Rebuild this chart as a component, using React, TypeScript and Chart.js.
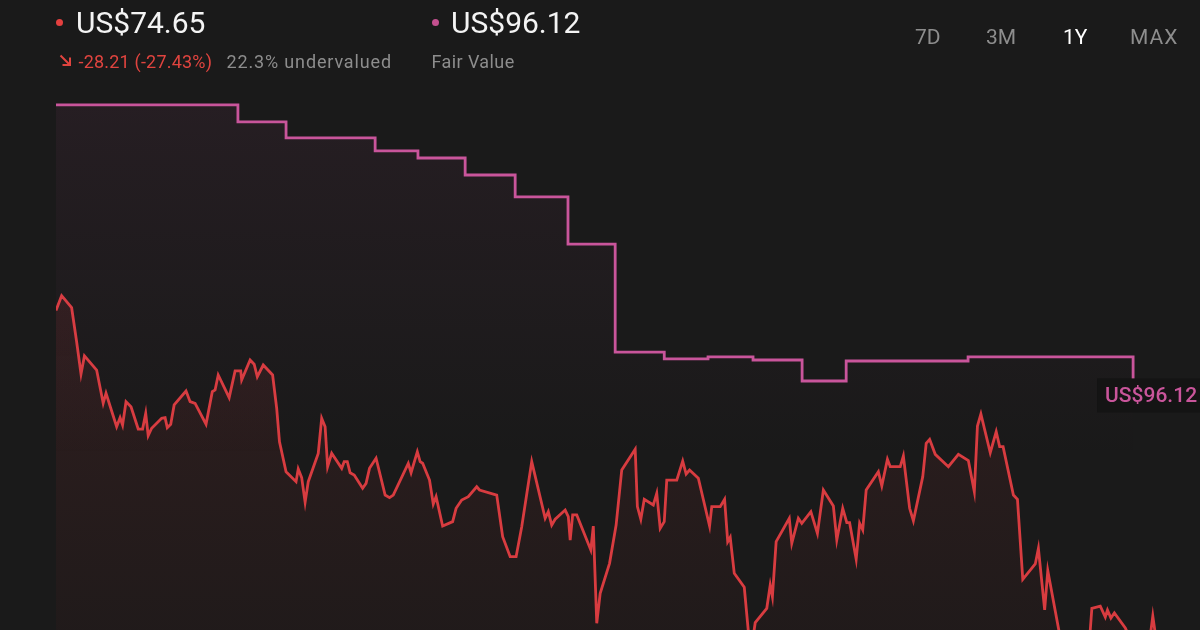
import React, { useEffect, useRef } from "react";
import { Chart, registerables } from "chart.js";

Chart.register(...registerables);

// ---- data (days since start of the 1Y window, prices in US$) ----
const priceDays = [
  0, 1.8, 5.0, 6.6, 8.0, 9.1, 13.0, 15.1, 16.0, 19.4, 20.5, 21.3, 22.4, 24.0, 26.3, 27.7, 28.7, 29.5, 30.6,
  33.8, 34.9, 35.6, 36.7, 37.8, 41.6, 42.9, 44.5, 48.0, 50.0, 50.9, 51.9, 55.4, 57.3, 59.1, 59.4, 62.1, 63.4,
  64.4, 66.3, 69.3, 70.6, 71.5, 73.6, 76.8, 77.5, 78.6, 79.7, 80.7, 83.9, 85.0, 86.1, 86.9, 88.2, 91.4, 92.2,
  93.2, 94.1, 95.4, 98.1, 99.2, 100.3, 102.4, 105.3, 106.7, 107.9, 112.7, 113.6, 115.6, 116.5, 117.3, 119.5,
  120.7, 121.6, 123.7, 126.9, 128.0, 129.8, 131.9, 134.6, 135.5, 141.0, 142.9, 145.3, 147.2, 149.0, 152.2,
  156.5, 157.5, 158.6, 159.7, 162.9, 163.9, 164.5, 165.3, 166.6, 171.1, 171.9, 173.0, 174.1, 177.1, 179.2,
  181.0, 185.3, 186.0, 187.1, 188.2, 191.1, 192.2, 193.3, 194.6, 195.4, 198.6, 200.5, 201.6, 202.7, 205.5,
  209.1, 209.8, 212.5, 213.9, 214.9, 215.7, 217.0, 220.2, 222.2, 223.7, 227.4, 228.5, 229.2, 230.4, 234.6,
  235.4, 237.5, 238.6, 241.5, 243.6, 245.5, 248.7, 249.8, 251.7, 253.0, 253.9, 256.0, 257.1, 258.1, 259.2,
  263.1, 264.2, 266.0, 266.9, 270.1, 271.1, 273.1, 274.3, 277.3, 278.4, 279.5, 281.3, 285.5, 288.7, 291.9,
  293.8, 294.8, 295.9, 298.9, 300.8, 301.9, 303.0, 306.3, 307.6, 309.3, 313.3, 314.3, 316.3, 317.3, 322.9,
  327.0, 330.2, 331.4, 334.1, 335.7, 336.4, 337.5, 338.6, 342.1, 345.3, 349.1, 350.9, 353.1, 355.2,
];
const prices = [
  102.86, 104.03, 103.08, 100.38, 97.82, 99.25, 98.13, 95.49, 96.29, 93.63, 94.35, 93.77, 95.62, 95.22, 93.45,
  93.45, 94.7, 92.92, 93.51, 94.3, 94.35, 93.56, 93.83, 95.36, 96.47, 95.62, 95.49, 93.83, 96.41, 96.55, 97.74,
  95.94, 98.06, 98.06, 97.34, 98.93, 98.59, 97.6, 98.53, 97.74, 95.1, 92.44, 90.06, 89.27, 90.28, 89.59, 87.63,
  89.27, 91.52, 94.3, 93.63, 90.46, 91.52, 90.33, 90.86, 90.86, 89.98, 89.8, 88.75, 89.14, 90.33, 91.13, 88.21,
  88.0, 88.21, 90.73, 89.98, 91.65, 90.86, 90.73, 89.4, 87.5, 88.08, 85.75, 86.1, 87.16, 87.82, 88.08, 88.87,
  88.61, 88.21, 84.9, 83.32, 83.32, 85.7, 90.86, 86.37, 86.89, 85.83, 86.29, 87.02, 86.49, 84.64, 86.63, 86.63,
  83.85, 85.75, 78.03, 80.41, 82.79, 85.83, 90.2, 91.84, 87.29, 86.29, 87.87, 87.42, 88.35, 85.57, 86.1, 89.4,
  89.4, 90.91, 89.88, 90.2, 89.54, 85.75, 87.29, 87.29, 87.87, 84.51, 84.86, 82.0, 80.89, 75.52, 78.08, 79.22,
  81.07, 80.14, 84.51, 86.37, 84.38, 86.37, 85.97, 86.89, 85.17, 88.61, 87.34, 84.64, 87.16, 86.02, 86.02,
  83.11, 85.97, 85.44, 88.61, 90.06, 88.93, 91.05, 90.46, 90.46, 91.31, 87.16, 86.17, 89.67, 92.32, 92.63,
  91.44, 90.46, 91.44, 90.94, 88.48, 93.69, 94.64, 91.57, 93.24, 92.05, 92.05, 88.21, 87.87, 81.52, 82.74,
  83.98, 79.09, 82.21, 74.72, 74.17, 75.12, 79.22, 79.4, 78.53, 79.09, 78.45, 78.85, 77.66, 75.91, 75.12,
  78.61, 74.72, 74.65,
];

const fairDays = [0, 58.2, 73.6, 102.1, 115.8, 130.9, 146.9, 163.8, 178.9, 194.6, 208.6, 223.0, 238.7, 252.8, 291.8, 344.6];
const fairValues = [119.17, 117.82, 116.55, 115.52, 114.96, 113.61, 111.87, 108.13, 99.56, 99.01, 99.17, 98.93, 97.26, 98.85, 99.17, 96.12];

const rangeTabs = ["7D", "3M", "1Y", "MAX"];
const activeTab = "1Y";

const currentPriceText = "US$74.65";
const fairValueText = "US$96.12";
const changeText = "-28.21 (-27.43%)";
const valuationText = "22.3% undervalued";
const fairLabel = "Fair Value";

const DAY_MAX = 366;
const Y_MIN = 77.5;
const Y_MAX = 127.5;

const RED = "#d83c40";
const PINK = "#c9559b";
const FONT = "Roboto, 'Liberation Sans', Arial, sans-serif";

const fairLabelPlugin = {
  id: "fairLabel",
  afterDatasetsDraw(chart: any) {
    const { ctx, scales } = chart;
    const i = fairValues.length - 1;
    const x = scales.x.getPixelForValue(fairDays[i]);
    const y = scales.y.getPixelForValue(fairValues[i]);
    ctx.save();
    ctx.fillStyle = "#141414";
    ctx.fillRect(x - 36, y - 17, chart.width - (x - 36), 34);
    ctx.fillStyle = PINK;
    ctx.font = `500 21px ${FONT}`;
    ctx.textAlign = "left";
    ctx.textBaseline = "middle";
    ctx.fillText(fairValueText, x - 28, y + 1);
    ctx.restore();
  },
};

function ChartCanvas() {
  const ref = useRef<HTMLCanvasElement | null>(null);
  useEffect(() => {
    if (!ref.current) return;
    const chart = new Chart(ref.current, {
      type: "line",
      data: {
        datasets: [
          {
            label: "Fair Value",
            data: fairDays.map((d, i) => ({ x: d, y: fairValues[i] })),
            borderColor: PINK,
            borderWidth: 2.8,
            stepped: "before",
            pointRadius: 0,
            fill: "start",
            backgroundColor: (c: any) => {
              const area = c.chart.chartArea;
              if (!area) return "transparent";
              const g = c.chart.ctx.createLinearGradient(0, area.top + 100, 0, area.top + 460);
              g.addColorStop(0, "rgba(200,85,154,0.07)");
              g.addColorStop(1, "rgba(200,85,154,0)");
              return g;
            },
          },
          {
            label: "Price",
            data: priceDays.map((d, i) => ({ x: d, y: prices[i] })),
            borderColor: RED,
            borderWidth: 2.8,
            pointRadius: 0,
            tension: 0,
            fill: "start",
            backgroundColor: (c: any) => {
              const area = c.chart.chartArea;
              if (!area) return "transparent";
              const g = c.chart.ctx.createLinearGradient(0, area.top + 290, 0, area.bottom);
              g.addColorStop(0, "rgba(214,58,63,0.11)");
              g.addColorStop(1, "rgba(214,58,63,0.04)");
              return g;
            },
          },
        ],
      },
      options: {
        animation: false,
        responsive: false,
        maintainAspectRatio: false,
        layout: { padding: { left: 56, right: 0, top: 0, bottom: 0 } },
        plugins: { legend: { display: false }, tooltip: { enabled: false } },
        scales: {
          x: { type: "linear", min: 0, max: DAY_MAX, display: false },
          y: { type: "linear", min: Y_MIN, max: Y_MAX, display: false },
        },
      },
      plugins: [fairLabelPlugin],
    });
    return () => chart.destroy();
  }, []);
  return <canvas ref={ref} width={1200} height={630} style={{ position: "absolute", left: 0, top: 0 }} />;
}

function Txt(props: {
  x: number;
  baseline: number;
  size: number;
  color: string;
  children: React.ReactNode;
  weight?: number;
  spacing?: number;
}) {
  const top = props.baseline - 0.8415 * props.size;
  return (
    <div
      style={{
        position: "absolute",
        left: props.x,
        top,
        fontSize: props.size,
        lineHeight: `${props.size}px`,
        color: props.color,
        fontFamily: FONT,
        fontWeight: props.weight ?? 400,
        letterSpacing: props.spacing ?? 0,
        whiteSpace: "nowrap",
      }}
    >
      {props.children}
    </div>
  );
}

function Dot(props: { x: number; y: number; color: string }) {
  return (
    <div
      style={{
        position: "absolute",
        left: props.x - 3.5,
        top: props.y - 3.5,
        width: 7,
        height: 7,
        borderRadius: "50%",
        background: props.color,
      }}
    />
  );
}

const tabX = [915, 986, 1063, 1130];

export default function App() {
  return (
    <div
      style={{
        position: "fixed",
        left: 0,
        top: 0,
        width: 1200,
        height: 630,
        background: "#1a1a1a",
        overflow: "hidden",
      }}
    >
      <ChartCanvas />
      <Dot x={59.5} y={22.5} color="#e4403f" />
      <Txt x={76} baseline={33.3} size={30} color="#f4f4f4">{currentPriceText}</Txt>
      <Dot x={435} y={22.5} color="#c4508f" />
      <Txt x={451} baseline={33.3} size={30} color="#f4f4f4">{fairValueText}</Txt>

      <svg style={{ position: "absolute", left: 59, top: 54 }} width={13} height={13} viewBox="0 0 13 13">
        <path d="M1.5 1.5 L10.5 10.5 M11 3.5 L11 11 L3.5 11" stroke="#e0443f" strokeWidth={2} fill="none" />
      </svg>
      <Txt x={78.5} baseline={68.3} size={18} color="#e0443f" spacing={0.2}>{changeText}</Txt>
      <Txt x={226.5} baseline={68.3} size={18} color="#8d8d8d" spacing={0.85}>{valuationText}</Txt>
      <Txt x={431.5} baseline={68.3} size={18} color="#8d8d8d" spacing={0.4}>{fairLabel}</Txt>

      {rangeTabs.map((t, i) => (
        <Txt key={t} x={tabX[i]} baseline={45} size={21} color={t === activeTab ? "#ffffff" : "#8d8d8d"} spacing={t === "MAX" ? 1 : 0}>
          {t}
        </Txt>
      ))}
    </div>
  );
}
